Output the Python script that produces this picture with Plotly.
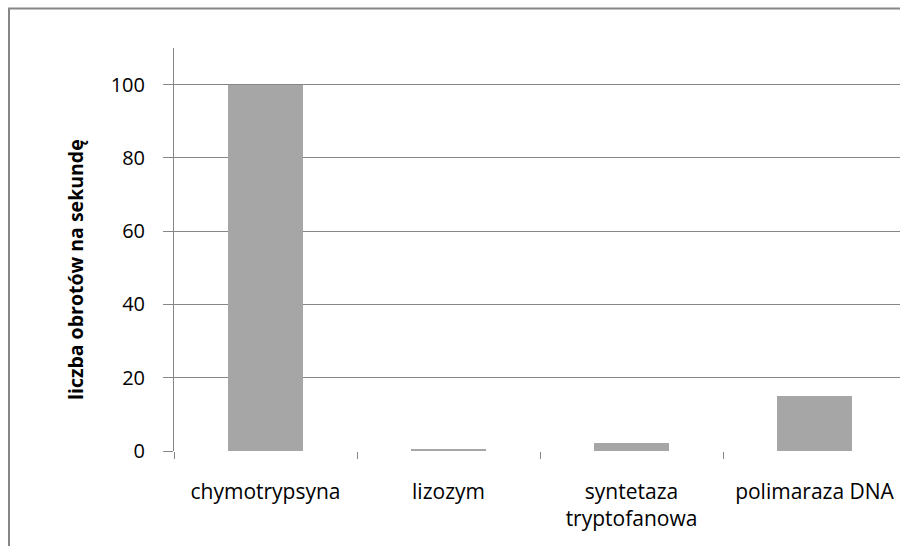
import plotly.graph_objects as go

categories = ["chymotrypsyna", "lizozym", "syntetaza<br>tryptofanowa", "polimaraza DNA"]
values = [100, 0.3, 2.2, 15]
y_ticks = [0, 20, 40, 60, 80, 100]
y_title = "liczba obrotów na sekundę"

W, H = 900, 546
L, R, T, B = 174, 0, 48, 95
pw, ph = W - L - R, H - T - B
cat_px = 183.0
x_range = [-0.5, -0.5 + pw / cat_px]

def px2x(px):
    return (px - L) / pw

def px2y(py):
    return (H - B - py) / ph

FONT = "Open Sans"
GRAY = "#868686"

fig = go.Figure()
fig.add_trace(go.Bar(
    x=categories, y=values,
    marker=dict(color="#a6a6a6", line=dict(width=0)),
    width=75 / cat_px,
))

fig.update_layout(
    width=W, height=H,
    margin=dict(l=L, r=R, t=T, b=B, pad=0),
    paper_bgcolor="white", plot_bgcolor="white",
    showlegend=False,
    font=dict(family=FONT, size=20, color="#000000"),
    bargap=0,
)
fig.update_xaxes(
    type="category", range=x_range,
    tickson="boundaries", ticks="outside", ticklen=7, tickcolor=GRAY, tickwidth=1,
    showgrid=False, showline=False, zeroline=False,
    tickfont=dict(family=FONT, size=21, color="#000000"),
    ticklabelstandoff=26,
)
fig.update_yaxes(
    range=[0, 110],
    tickmode="array", tickvals=y_ticks,
    ticks="outside", ticklen=10, tickcolor=GRAY, tickwidth=1,
    showgrid=True, gridcolor=GRAY, gridwidth=1,
    zeroline=True, zerolinecolor="white", zerolinewidth=1,
    showline=True, linecolor=GRAY, linewidth=1,
    tickfont=dict(family=FONT, size=20, color="#000000"),
    ticklabelstandoff=14,
)

fig.add_annotation(
    text="<b>" + y_title + "</b>", textangle=-90,
    xref="paper", yref="paper", x=px2x(75), y=px2y(270),
    showarrow=False, xanchor="center", yanchor="middle",
    font=dict(family=FONT, size=19.5, color="#000000"),
)

fig.add_shape(
    type="rect", xref="paper", yref="paper",
    x0=px2x(9), x1=px2x(960), y0=px2y(600), y1=px2y(8.5),
    line=dict(color=GRAY, width=2), fillcolor="rgba(0,0,0,0)", layer="below",
)

fig.write_html(
    "out.html",
    config={"displayModeBar": False},
    post_script="document.body.style.margin='0';document.body.style.overflow='hidden';",
)
